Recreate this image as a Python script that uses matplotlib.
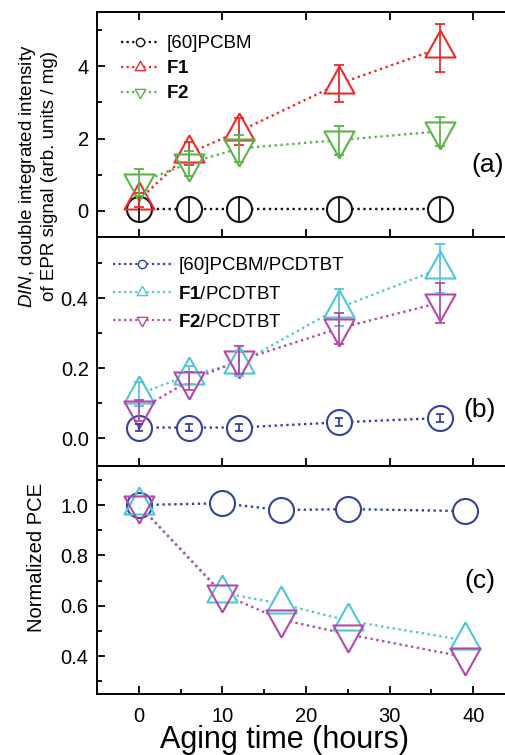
import matplotlib
matplotlib.use("Agg")
import matplotlib.pyplot as plt
from matplotlib.lines import Line2D
from matplotlib.ticker import MultipleLocator

plt.rcParams['font.family'] = ['Liberation Sans', 'DejaVu Sans']
plt.rcParams['mathtext.fontset'] = 'custom'
plt.rcParams['mathtext.rm'] = 'Liberation Sans'
plt.rcParams['mathtext.bf'] = 'Liberation Sans:bold'
plt.rcParams['mathtext.it'] = 'Liberation Sans:italic'

# EPR aging data, panels (a) and (b)
t_epr = [0, 6, 12, 24, 36]
pcbm_a = [0.05, 0.05, 0.05, 0.05, 0.05]
pcbm_a_err = [0.34, 0.34, 0.34, 0.34, 0.34]
f1_a = [0.3, 1.6, 2.2, 3.52, 4.5]
f1_a_err = [0.2, 0.32, 0.37, 0.52, 0.66]
f2_a = [0.78, 1.32, 1.73, 1.96, 2.2]
f2_a_err = [0.38, 0.35, 0.38, 0.4, 0.4]

pcbm_b = [0.03, 0.03, 0.03, 0.045, 0.057]
pcbm_b_err = [0.01, 0.01, 0.01, 0.012, 0.012]
f1_b = [0.126, 0.18, 0.213, 0.373, 0.484]
f1_b_err = [0.035, 0.025, 0.035, 0.053, 0.07]
f2_b = [0.08, 0.163, 0.222, 0.314, 0.387]
f2_b_err = [0.03, 0.025, 0.04, 0.045, 0.057]

# PCE aging data, panel (c)
t_pce = [0, 10, 17, 25, 39]
pcbm_c = [1.0, 1.007, 0.98, 0.984, 0.976]
f1_c = [1.0, 0.652, 0.608, 0.541, 0.463]
f2_c = [1.0, 0.647, 0.546, 0.487, 0.397]

labels_a = ['[60]PCBM', r'$\mathbf{F1}$', r'$\mathbf{F2}$']
labels_b = ['[60]PCBM/PCDTBT', r'$\mathbf{F1}$/PCDTBT', r'$\mathbf{F2}$/PCDTBT']

BLACK = '#111111'
RED = '#ec2b2b'
GREEN = '#5ab447'
BLUE = '#3342a0'
CYAN = '#52c5d9'
MAGENTA = '#b24aaa'

# triangles with the centroid on the data point (Origin style)
TRI_UP = [(0, 1), (-0.833, -0.5), (0.833, -0.5), (0, 1)]
TRI_DN = [(0, -1), (-0.833, 0.5), (0.833, 0.5), (0, -1)]
DOT = (0, (1, 1.5))


def msize(m):
    return 18 if m == 'o' else 26


def draw(ax, series):
    # dotted lines, white fill to cut lines at markers, outlines, error bars
    for x, y, err, c, m, cap in series:
        ax.plot(x, y, ls=DOT, lw=1.7, color=c, zorder=1)
    for x, y, err, c, m, cap in series:
        ax.plot(x, y, ls='none', marker=m, ms=msize(m), mfc='white', mew=0, zorder=2)
    for x, y, err, c, m, cap in series:
        ax.plot(x, y, ls='none', marker=m, ms=msize(m), mfc='none', mec=c, mew=1.5, zorder=3)
    for x, y, err, c, m, cap in series:
        if err is not None:
            ax.errorbar(x, y, yerr=err, fmt='none', ecolor=c, elinewidth=1.3,
                        capsize=cap, capthick=1.3, zorder=4)


def legend(ax, colors, markers, labels, hl, anchor, spacing):
    handles = [Line2D([], [], color=c, ls=DOT, lw=1.6, marker=m,
                      ms=6 if m == 'o' else 9, mfc='white', mec=c, mew=1.0)
               for c, m in zip(colors, markers)]
    ax.legend(handles, labels, loc='upper left', bbox_to_anchor=anchor, frameon=False,
              fontsize=13.5, handlelength=hl, handletextpad=0.4,
              labelspacing=spacing, borderaxespad=0)


def style(ax, ylim, major, minor, xminor=False, top=False, labelbottom=False):
    ax.set_xlim(-5, 45)
    ax.set_ylim(*ylim)
    ax.xaxis.set_major_locator(MultipleLocator(10))
    if xminor:
        ax.xaxis.set_minor_locator(MultipleLocator(5))
    ax.yaxis.set_major_locator(MultipleLocator(major))
    ax.yaxis.set_minor_locator(MultipleLocator(minor))
    ax.tick_params(which='both', direction='in', width=1.3, labelsize=14.5,
                   top=top, right=False, labelbottom=labelbottom)
    ax.tick_params(which='major', length=6)
    ax.tick_params(which='minor', length=3.5)
    ax.tick_params(axis='x', pad=9)
    ax.tick_params(axis='y', pad=6)
    if not xminor:
        ax.tick_params(axis='x', which='minor', bottom=False, top=False)
    for s in ax.spines.values():
        s.set_linewidth(1.4)


fig = plt.figure(figsize=(5.05, 7.55), dpi=100)
left, width = 97 / 505, 418 / 505
ax_a = fig.add_axes([left, 1 - 237 / 755, width, 225 / 755])
ax_b = fig.add_axes([left, 1 - 466 / 755, width, 229 / 755])
ax_c = fig.add_axes([left, 1 - 694 / 755, width, 228 / 755])

draw(ax_a, [(t_epr, pcbm_a, pcbm_a_err, BLACK, 'o', 0),
            (t_epr, f1_a, f1_a_err, RED, TRI_UP, 3.5),
            (t_epr, f2_a, f2_a_err, GREEN, TRI_DN, 3.5)])
style(ax_a, (-0.72, 5.5), 2, 1, top=True)
legend(ax_a, [BLACK, RED, GREEN], ['o', TRI_UP, TRI_DN], labels_a, 2.0, (0.04, 0.93), 0.42)
ax_a.text(39.8, 1.27, '(a)', fontsize=19, va='center', ha='left')

draw(ax_b, [(t_epr, pcbm_b, pcbm_b_err, BLUE, 'o', 3),
            (t_epr, f1_b, f1_b_err, CYAN, TRI_UP, 3.5),
            (t_epr, f2_b, f2_b_err, MAGENTA, TRI_DN, 3.5)])
style(ax_b, (-0.08, 0.575), 0.2, 0.1)
legend(ax_b, [BLUE, CYAN, MAGENTA], ['o', TRI_UP, TRI_DN], labels_b, 3.1, (0.02, 0.945), 0.6)
ax_b.text(38.8, 0.081, '(b)', fontsize=19, va='center', ha='left')

draw(ax_c, [(t_pce, pcbm_c, None, BLUE, 'o', 0),
            (t_pce, f1_c, None, CYAN, TRI_UP, 0),
            (t_pce, f2_c, None, MAGENTA, TRI_DN, 0)])
style(ax_c, (0.25, 1.155), 0.2, 0.1, xminor=True, labelbottom=True)
ax_c.text(39.0, 0.70, '(c)', fontsize=19, va='center', ha='left')

fig.text(37.5 / 505, 1 - 176 / 755,
         '$\\mathit{DIN}$, double integrated intensity\nof EPR signal (arb. units / mg)',
         rotation=90, ha='center', va='center', fontsize=13.5, multialignment='center',
         linespacing=1.2)
fig.text(36.5 / 505, 1 - 557 / 755, 'Normalized PCE', rotation=90,
         ha='center', va='center', fontsize=14.5)
fig.text(284 / 505, 7 / 755, 'Aging time (hours)', ha='center', va='baseline', fontsize=22)

fig.savefig('out.png', dpi=100)
